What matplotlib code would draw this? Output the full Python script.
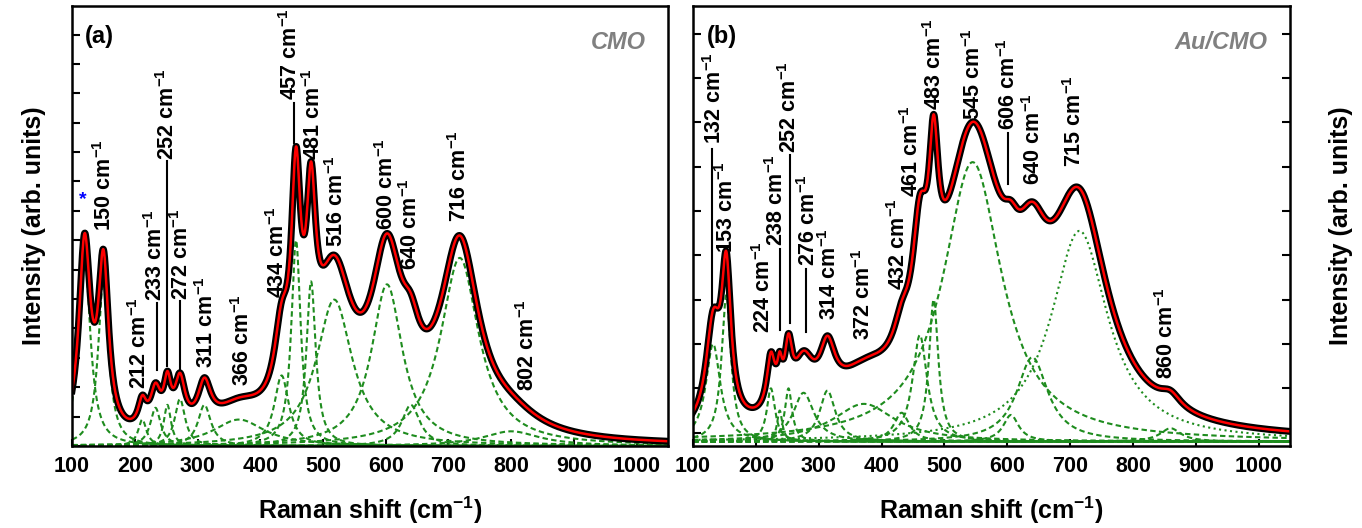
import numpy as np
import matplotlib.pyplot as plt

plt.rcParams['font.family'] = ['Liberation Sans', 'DejaVu Sans']
plt.rcParams['font.weight'] = 'bold'
plt.rcParams['mathtext.fontset'] = 'custom'
plt.rcParams['mathtext.rm'] = 'Liberation Sans:bold'
plt.rcParams['mathtext.bf'] = 'Liberation Sans:bold'
plt.rcParams['mathtext.default'] = 'bf'

# fitted Lorentzian components (centre, height, half width)
cmo_center = [120, 150, 212, 233, 252, 272, 311, 366, 434, 457, 481, 518, 602, 640, 718, 800]
cmo_height = [6.5, 5.7, 0.9, 1.3, 1.4, 1.6, 1.4, 0.9, 2.4, 7.0, 5.6, 4.98, 5.5, 1.4, 6.4, 0.5]
cmo_width = [11, 10, 8, 10, 7, 10, 12.5, 50, 14, 9, 9, 35, 30, 17.5, 37, 55]
cmo_base = 0.0

au_center = [132, 153, 224, 238, 252, 276, 314, 372, 432, 461, 483, 545, 606, 640, 715, 860]
au_height = [2.2, 3.3, 1.2, 0.7, 1.2, 1.1, 1.15, 0.85, 0.65, 2.4, 3.2, 6.3, 0.6, 1.9, 4.75, 0.3]
au_width = [14, 9, 8, 5, 7, 20, 15, 60, 15, 14, 9, 57, 15, 30, 55, 20]
au_base = -0.2
au_style = ['--'] * 14 + [':', '--']

# peak labels
cmo_labels = ['150', '212', '233', '252', '272', '311', '366', '434', '457', '481',
              '516', '600', '640', '716', '802']
cmo_lab_x = [152, 208, 233, 253, 275, 315, 371, 427, 449, 485, 522, 602, 639, 718, 826]
cmo_lab_y = [7.3, 1.93, 4.93, 9.73, 4.98, 2.66, 2.04, 5.04, 11.77, 9.73, 6.78, 7.35,
             5.99, 7.63, 1.88]
cmo_leaders = [(235.5, 2.6, 4.87), (251.5, 2.72, 9.7), (272.7, 2.6, 4.95), (454, 10.3, 11.66)]

au_labels = ['132', '153', '224', '238', '252', '276', '314', '372', '432', '461', '483',
             '545', '606', '640', '715', '860']
au_lab_x = [135, 154, 212, 233, 254.4, 283.5, 318, 371, 427, 448, 485, 546, 602, 641.5,
            708, 853]
au_lab_y = [6.52, 4.05, 2.25, 4.2, 6.3, 3.75, 2.55, 2.09, 3.22, 5.32, 7.27, 7.05, 6.82,
            5.59, 6.0, 1.2]
au_leaders = [(129.5, 2.85, 6.4), (238, 2.32, 4.15), (254, 2.47, 6.25), (280, 2.28, 3.7),
              (602, 5.6, 6.75)]

shift = np.linspace(100, 1050, 1901)
green = '#1e8c1e'


def lorentz(x, c, h, g):
    return h / (1 + ((x - c) / g) ** 2)


def draw_panel(ax, centers, heights, widths, base, styles):
    total = np.zeros_like(shift)
    for c, h, g, ls in zip(centers, heights, widths, styles):
        comp = lorentz(shift, c, h, g)
        total += comp
        if ls == ':':
            ax.plot(shift, base + comp, color=green, lw=1.5, ls=':')
        else:
            ax.plot(shift, base + comp, color=green, lw=1.5, dashes=(2.6, 1.6))
    ax.plot(shift, base + total, color='black', lw=5)
    ax.plot(shift, base + total, color='red', lw=1.8)


def put_labels(ax, labels, xs, ys, leaders):
    for lab, x, y in zip(labels, xs, ys):
        ax.text(x, y, lab + r' cm$^{-1}$', rotation=90, ha='center', va='bottom',
                fontsize=15.5, fontweight='bold')
    for x, y0, y1 in leaders:
        ax.plot([x, x], [y0, y1], color='black', lw=1.5)


fig = plt.figure(figsize=(13.62, 5.28), dpi=100)
ax_a = fig.add_axes([0.0529, 0.1553, 0.4376, 0.8333])
ax_b = fig.add_axes([0.5088, 0.1553, 0.4383, 0.8333])

draw_panel(ax_a, cmo_center, cmo_height, cmo_width, cmo_base, ['--'] * len(cmo_center))
draw_panel(ax_b, au_center, au_height, au_width, au_base, au_style)

put_labels(ax_a, cmo_labels, cmo_lab_x, cmo_lab_y, cmo_leaders)
put_labels(ax_b, au_labels, au_lab_x, au_lab_y, au_leaders)
ax_a.text(117.5, 8.4, '*', color='blue', ha='center', va='center', fontsize=14)

ax_a.set_ylim(0, 14.97)
ax_b.set_ylim(-0.3, 9.62)
ax_a.set_yticks(np.arange(0, 15))
ax_b.set_yticks(np.arange(0, 10))

for ax in (ax_a, ax_b):
    ax.set_xlim(100, 1050)
    ax.set_xticks(np.arange(100, 1001, 100))
    ax.tick_params(axis='x', direction='in', length=5, width=1.5, labelsize=15.5, pad=7)
    ax.tick_params(axis='y', direction='in', length=6, width=1.5, labelleft=False)
    for sp in ax.spines.values():
        sp.set_linewidth(1.8)
    ax.set_xlabel(r'Raman shift (cm$^{-1}$)', fontsize=18, fontweight='bold', labelpad=13)

ax_b.tick_params(axis='y', right=True)
ax_a.set_ylabel('Intensity (arb. units)', fontsize=18, fontweight='bold', labelpad=19)
ax_b.yaxis.set_label_position('right')
ax_b.set_ylabel('Intensity (arb. units)', fontsize=18, fontweight='bold', labelpad=28)

ax_a.text(0.022, 0.93, '(a)', transform=ax_a.transAxes, fontsize=17, fontweight='bold',
          va='center')
ax_b.text(0.023, 0.93, '(b)', transform=ax_b.transAxes, fontsize=17, fontweight='bold',
          va='center')
ax_a.text(0.963, 0.918, 'CMO', transform=ax_a.transAxes, fontsize=17, fontweight='bold',
          style='italic', color='#808080', ha='right', va='center')
ax_b.text(0.963, 0.918, 'Au/CMO', transform=ax_b.transAxes, fontsize=17,
          fontweight='bold', style='italic', color='#808080', ha='right', va='center')

fig.savefig('out.png', dpi=100)
